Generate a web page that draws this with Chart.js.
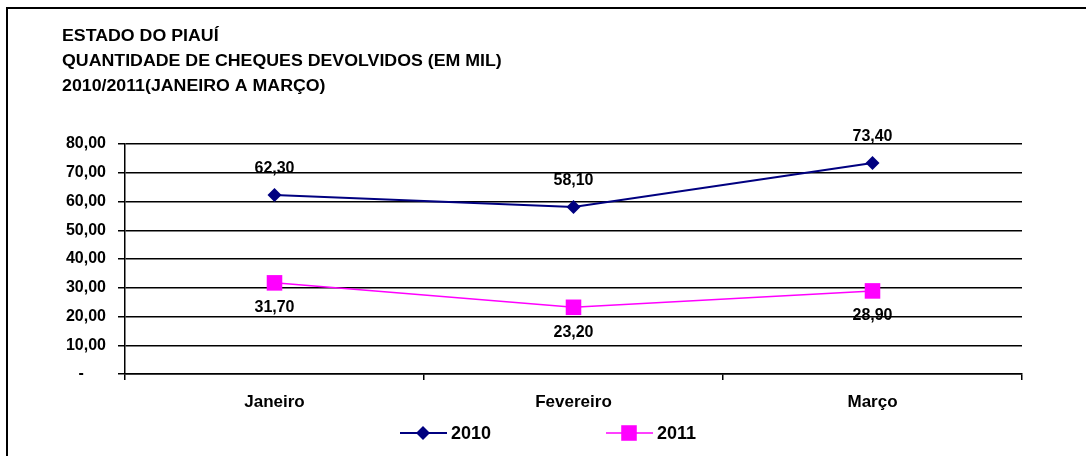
<!DOCTYPE html>
<html>
<head>
<meta charset="utf-8">
<script src="https://cdn.jsdelivr.net/npm/chart.js@4/dist/chart.umd.min.js"></script>
<style>
  html, body { margin: 0; padding: 0; background: #fff; overflow: hidden; }
  #chart { display: block; }
</style>
</head>
<body>
<canvas id="chart" width="1086" height="456"></canvas>
<script>
const months = ['Janeiro', 'Fevereiro', 'Março'];
const series2010 = [62.3, 58.1, 73.4];
const series2011 = [31.7, 23.2, 28.9];
const titleLines = [
  'ESTADO DO PIAUÍ',
  'QUANTIDADE DE CHEQUES DEVOLVIDOS (EM MIL)',
  '2010/2011(JANEIRO A MARÇO)'
];

const FONT = '"Liberation Sans", Arial, sans-serif';
Chart.defaults.font.family = FONT;
Chart.defaults.font.size = 16;
Chart.defaults.font.weight = 'bold';
Chart.defaults.color = '#000';

const fmt = v => v.toFixed(2).replace('.', ',');

// frame, title, point labels and legend drawn by hand
const decor = {
  id: 'decor',
  beforeDraw(chart) {
    const ctx = chart.ctx;
    ctx.save();
    ctx.fillStyle = '#fff';
    ctx.fillRect(0, 0, chart.width, chart.height);
    ctx.fillStyle = '#000';
    ctx.fillRect(6, 7, chart.width, 2);
    ctx.fillRect(6, 7, 2, chart.height);
    ctx.font = 'bold 16px ' + FONT;
    ctx.textBaseline = 'middle';
    ctx.textAlign = 'left';
    // the original text is a bit stretched sideways
    ctx.translate(62, 0);
    ctx.scale(1.11, 1);
    titleLines.forEach((t, i) => ctx.fillText(t, 0, 37 + i * 25));
    ctx.restore();
  },
  afterDatasetsDraw(chart) {
    const ctx = chart.ctx;
    ctx.save();
    ctx.font = 'bold 16px ' + FONT;
    ctx.textAlign = 'center';
    ctx.textBaseline = 'middle';
    ctx.fillStyle = '#000';
    chart.data.datasets.forEach((ds, i) => {
      const meta = chart.getDatasetMeta(i);
      meta.data.forEach((pt, j) => {
        const dy = ds.labelAbove ? -26 : 25;
        ctx.fillText(fmt(ds.data[j]), pt.x, pt.y + dy);
      });
    });

    // legend
    const items = [{ x: 400, ds: chart.data.datasets[0] }, { x: 606, ds: chart.data.datasets[1] }];
    const y = 433;
    ctx.font = 'bold 18px ' + FONT;
    items.forEach(it => {
      const ds = it.ds;
      ctx.strokeStyle = ds.borderColor;
      ctx.lineWidth = ds.borderWidth;
      ctx.beginPath();
      ctx.moveTo(it.x, y);
      ctx.lineTo(it.x + 47, y);
      ctx.stroke();
      ctx.fillStyle = ds.pointBackgroundColor;
      Chart.helpers.drawPoint(ctx, {
        pointStyle: ds.pointStyle, radius: ds.pointRadius, borderWidth: 0, rotation: 0
      }, it.x + 23, y);
      ctx.fillStyle = '#000';
      ctx.textAlign = 'left';
      ctx.fillText(ds.label, it.x + 51, y + 1);
    });
    ctx.restore();
  }
};

const ctx = document.getElementById('chart').getContext('2d');
new Chart(ctx, {
  type: 'line',
  data: {
    labels: months,
    datasets: [
      {
        label: '2010',
        data: series2010,
        borderColor: '#000080',
        backgroundColor: '#000080',
        borderWidth: 2,
        pointStyle: 'rectRot',
        pointRadius: 7,
        pointBackgroundColor: '#000080',
        pointBorderWidth: 0,
        tension: 0,
        labelAbove: true
      },
      {
        label: '2011',
        data: series2011,
        borderColor: '#ff00ff',
        backgroundColor: '#ff00ff',
        borderWidth: 1.5,
        pointStyle: 'rect',
        pointRadius: 11,
        pointBackgroundColor: '#ff00ff',
        pointBorderWidth: 0,
        tension: 0,
        labelAbove: false
      }
    ]
  },
  options: {
    responsive: false,
    animation: false,
    devicePixelRatio: 1,
    layout: { padding: { top: 144, right: 64, left: 0, bottom: 0 } },
    plugins: {
      legend: { display: false },
      title: { display: false },
      tooltip: { enabled: false }
    },
    scales: {
      x: {
        offset: true,
        grid: { offset: true, drawOnChartArea: false, drawTicks: true, tickLength: 6, color: '#000', lineWidth: 1.5 },
        border: { display: true, color: '#000', width: 1.5 },
        ticks: { padding: 12, font: { size: 17, weight: 'bold' } },
        afterFit: s => { s.height = 82; }
      },
      y: {
        min: 0,
        max: 80,
        grid: { color: '#000', lineWidth: 1.5, tickLength: 7 },
        border: { display: true, color: '#000', width: 1.5 },
        ticks: {
          stepSize: 10,
          padding: 12,
          font: { size: 16, weight: 'bold' },
          callback: v => (v === 0 ? '-     ' : fmt(v))
        },
        afterFit: s => { s.width = 125; }
      }
    }
  },
  plugins: [decor]
});
</script>
</body>
</html>
